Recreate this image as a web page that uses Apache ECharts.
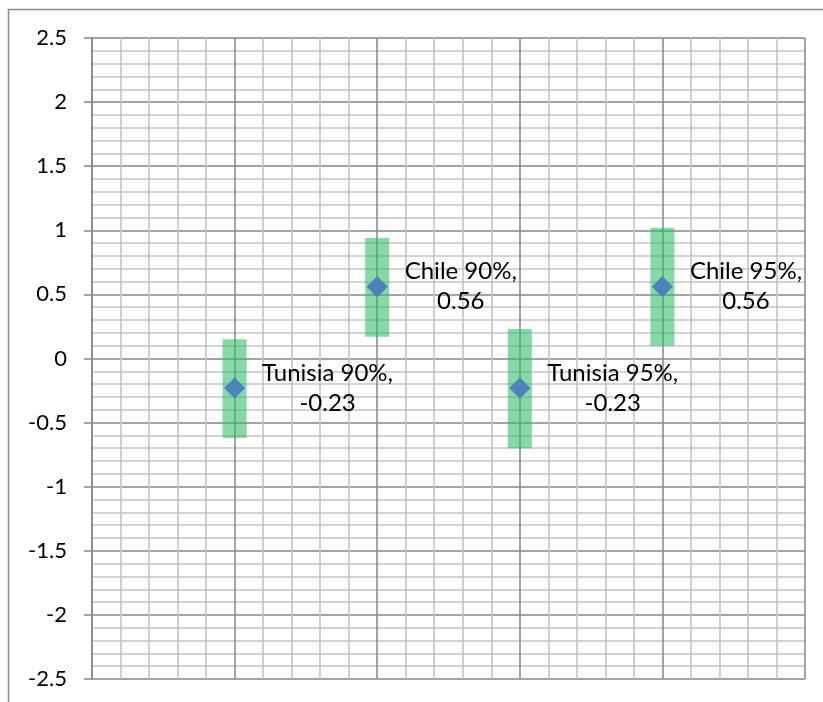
<!DOCTYPE html>
<html>
<head>
<meta charset="utf-8">
<style>
  html, body { margin: 0; padding: 0; background: #fff; }
  #chart { width: 823px; height: 702px; }
</style>
<script src="https://cdn.jsdelivr.net/npm/echarts@6/dist/echarts.min.js"></script>
</head>
<body>
<div id="chart"></div>
<script>
// Point estimates with their 90% and 95% intervals
const names = ['Tunisia 90%', 'Chile 90%', 'Tunisia 95%', 'Chile 95%'];
const xPos = [1, 2, 3, 4];
const estimates = [-0.23, 0.56, -0.23, 0.56];
const lows = [-0.62, 0.17, -0.70, 0.10];
const highs = [0.15, 0.94, 0.23, 1.02];

const FONT = 'Lato';
const MAJOR = '#868686';
const MINOR = '#c4c4c4';

const chart = echarts.init(document.getElementById('chart'));

const rangeData = xPos.map((x, i) => [x, lows[i], highs[i]]);
const pointData = xPos.map((x, i) => ({ value: [x, estimates[i]], name: names[i] }));

chart.setOption({
  animation: false,
  backgroundColor: '#fff',
  graphic: [
    { type: 'polyline', silent: true, z: 0,
      shape: { points: [[8.5, 702], [8.5, 9.5], [823, 9.5]] },
      style: { stroke: '#8c8c8c', lineWidth: 1.5, fill: null } }
  ],
  grid: { left: 92, top: 38, width: 713, height: 641, containLabel: false },
  xAxis: {
    type: 'value', min: 0, max: 5, interval: 1,
    axisLine: { show: false }, axisTick: { show: false }, axisLabel: { show: false },
    splitLine: { show: true, lineStyle: { color: MAJOR, width: 1.5 } },
    minorTick: { show: false, splitNumber: 5 },
    minorSplitLine: { show: true, lineStyle: { color: MINOR, width: 1.6 } }
  },
  yAxis: {
    type: 'value', min: -2.5, max: 2.5, interval: 0.5,
    axisLine: { show: true, onZero: false, lineStyle: { color: MAJOR, width: 1.5 } },
    axisTick: { show: true, inside: false, length: 8, lineStyle: { color: MAJOR, width: 1.5 } },
    axisLabel: { margin: 25, color: '#000', fontFamily: FONT, fontSize: 22 },
    splitLine: { show: true, lineStyle: { color: MAJOR, width: 1.5 } },
    minorTick: { show: false, splitNumber: 5 },
    minorSplitLine: { show: true, lineStyle: { color: MINOR, width: 1.6 } }
  },
  series: [
    {
      type: 'custom',
      z: 2,
      data: rangeData,
      renderItem: function (params, api) {
        const x = api.value(0);
        const top = api.coord([x, api.value(2)]);
        const bottom = api.coord([x, api.value(1)]);
        const w = 24;
        return {
          type: 'rect',
          shape: { x: top[0] - w / 2, y: top[1], width: w, height: bottom[1] - top[1] },
          style: { fill: 'rgba(44, 190, 100, 0.58)' }
        };
      }
    },
    {
      type: 'scatter',
      z: 3,
      symbol: 'diamond',
      symbolSize: [20, 20],
      itemStyle: { color: '#4f81bd', borderColor: '#4a7ebb', borderWidth: 1, opacity: 1 },
      data: pointData,
      label: {
        show: true,
        position: 'right',
        distance: 17,
        formatter: function (p) {
          return '{a|' + p.name + ',}\n{a|' + p.value[1].toFixed(2) + '}';
        },
        rich: {
          a: { align: 'center', color: '#000', fontFamily: FONT, fontSize: 24, lineHeight: 30 }
        }
      }
    }
  ]
});
</script>
</body>
</html>
